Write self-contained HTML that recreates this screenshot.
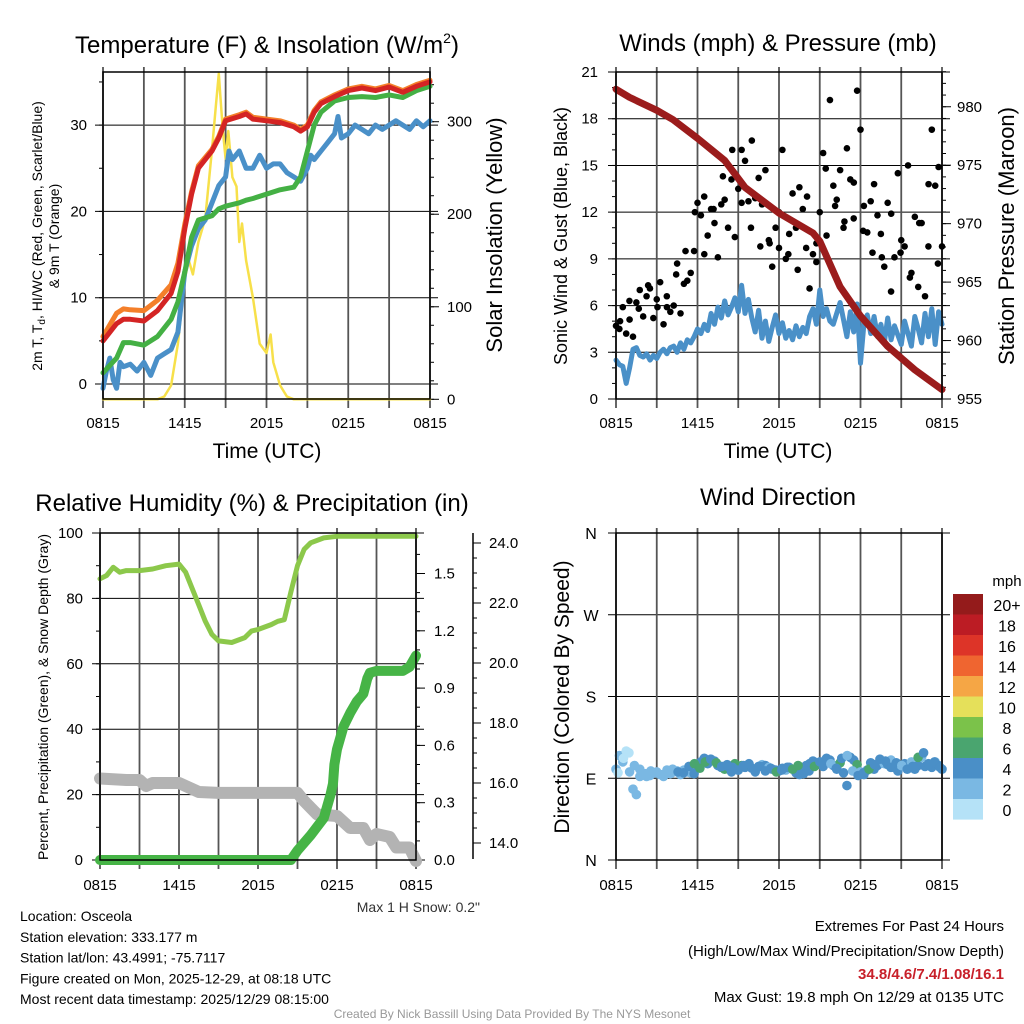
<!DOCTYPE html>
<html><head><meta charset="utf-8"><style>
html,body{margin:0;padding:0;background:#fff;}
svg{display:block;font-family:"Liberation Sans",Arial,sans-serif;}
</style></head><body>
<svg id="c" width="1024" height="1024" viewBox="0 0 1024 1024"></svg>
<script>
// ===== DATA (hours after 0815 UTC) =====
const tempT=[0,1,1.5,2,3,4,5,5.5,6,6.5,7,8,8.5,9,10,10.5,11,12,13,14,14.5,15,15.5,16,17,18,19,20,21,22,23,24];
const tempRed=[5,7,7.5,7.5,7.3,8.5,10.5,13,18,22,25,27,28.5,30.5,31,31.3,30.7,30.5,30.3,29.8,29.3,29.8,31.5,32.5,33.3,34,34.3,34,34.4,33.8,34.5,35];
const tempOrange=[5.5,8.2,8.7,8.6,8.5,9.7,11.5,14,18.5,22.3,25.3,27.2,28.7,30.7,31.2,31.5,30.9,30.7,30.5,30,29.5,30,31.7,32.7,33.5,34.2,34.5,34.2,34.6,34,34.7,35.2];
const tempGreen=[1.3,3,4.8,4.8,4.5,5.5,7.5,9.5,13,17,19,19.5,20.3,20.6,21,21.3,21.5,22,22.5,22.8,24,27,30,31.5,32.8,33.2,33.3,33.2,33.5,33.2,34,34.5];
const wcT=[0,0.25,0.5,0.75,1,1.25,1.5,2,2.5,3,3.5,4,4.5,5,5.5,6,6.5,7,7.5,8,8.5,9,9.25,9.5,10,10.5,11,11.5,12,12.5,13,13.5,14,14.5,15,15.25,15.5,16,16.5,17,17.25,17.5,18,18.5,19,19.5,20,20.5,21,21.5,22,22.5,23,23.5,24];
const wcBlue=[-0.5,1.5,3,0.5,-0.5,2.5,2,2.3,1.5,2.5,1,3,3.5,4,6,13,16,18,19,21,23,24,27,26,27,25,25,26.5,25,25.5,25.5,24.5,24,23.5,25,26.5,26,27,28,29,31,28.5,29,30,29.5,29,30,29.5,30,30.5,30,29.5,30.5,29.8,30.5];
const solarT=[0,4,4.5,5,5.5,6,6.3,6.6,7,7.5,8,8.3,8.5,8.6,8.8,9,9.2,9.5,9.8,10,10.2,10.5,11,11.5,12,12.3,12.5,13,13.5,14,24];
const solarW=[0,0,3,15,60,130,150,135,170,195,270,320,352,330,290,260,290,240,230,170,190,150,110,60,50,70,40,15,3,0,0];
const windBlue=[2.5,2.2,2.1,1.0,2.0,3.2,3.3,2.8,2.7,2.9,2.5,2.8,2.6,3.0,3.2,2.9,3.3,3.4,3.0,3.6,3.2,3.8,3.6,4.0,4.5,4.2,4.8,4.4,5.5,4.8,5.9,5.2,6.3,5.4,5.9,6.5,5.6,7.3,5.5,6.4,5.2,4.3,5.7,3.9,5.0,3.7,4.6,5.4,4.2,4.9,3.9,4.4,3.8,4.7,4.0,4.6,4.2,5.3,5.8,4.8,7.0,5.3,5.8,5.0,4.8,5.5,6.2,5.1,4.0,5.6,4.3,6.1,2.3,4.8,5.4,4.2,5.3,4.0,4.8,3.6,5.2,3.8,4.7,4.1,3.5,5.0,4.2,3.4,5.3,4.5,3.6,5.5,4.0,5.8,3.5,5.6,4.8];
const gust=[4.7,4.5,5.9,4.2,5.1,4.0,6.2,7.0,5.3,6.6,7.1,5.2,6.4,7.5,4.8,5.9,5.6,6.0,8.7,5.5,7.4,7.6,8.1,9.5,12.6,11.8,9.3,10.5,12.2,11.3,9.1,12.5,12.8,11.0,14.1,10.4,13.5,16.0,15.3,12.7,16.6,12.9,14.2,12.5,14.7,10.2,8.5,11.0,9.7,16.0,9.0,10.6,13.2,11.0,13.6,12.2,9.7,7.1,9.3,8.8,12.0,15.8,10.5,19.2,13.7,12.8,14.7,11.0,16.1,14.1,11.6,19.8,17.3,12.4,10.7,12.7,13.8,11.8,10.6,8.5,12.6,6.9,9.1,14.5,10.2,9.8,15.0,8.1,11.7,7.2,11.3,6.6,9.8,17.3,13.7,14.9,9.8];
const gust2=[5.0,6.3,5.8,7.3,5.9,6.6,8.0,9.5,12.0,13.0,12.2,14.3,16.0,12.6,11.0,9.8,10.0,12.0,9.3,8.3,13.0,10.0,14.8,12.4,11.4,13.9,10.8,9.4,9.1,11.9,9.4,7.8,11.3,13.8,8.7];
const pressT=[0,1,3,4.2,6,8,9.5,12,14.5,15,16.5,18,20,22,24];
const pressMb=[981.5,980.8,979.7,978.9,977.3,975.4,973.1,970.9,969.2,968.5,964.6,962.1,959.5,957.5,955.8];
const rhT=[0,0.5,1,1.5,2,3,4,5,6,6.5,7,7.5,8,8.5,9,10,11,11.5,12,13,13.5,14,14.5,15,15.5,16,17,18,24];
const rhPct=[86,87,89.5,88,88.5,88.5,89,90,90.5,88,83,78,73,69,67,66.5,68,70,70.5,72,73,73.5,82,90,95,97,98.5,99,99];
const precipT=[0,14.5,15,16,17,17.5,17.7,17.8,18,18.5,19,19.5,20,20.3,20.5,21,23,23.5,24];
const precipIn=[0,0,0.05,0.13,0.22,0.34,0.40,0.5,0.58,0.7,0.77,0.83,0.87,0.95,0.98,0.99,0.99,1.01,1.07];
const snowT=[0,2,3,3.5,4,5,6,7.5,9,12,15,15.5,16.5,18,19,20,20.5,21,22,22.5,23.5,24];
const snowIn=[16.15,16.1,16.1,15.9,16.0,16.0,16.0,15.7,15.67,15.67,15.67,15.4,14.95,14.9,14.5,14.5,14.1,14.3,14.2,13.85,13.85,13.4];
const windDir=[100,115,108,120,97,78,72,100,95,92,93,96,97,94,92,99,95,97,98,94,99,97,96,95,103,108,112,106,110,109,104,102,100,103,97,106,99,104,102,105,101,97,103,105,104,102,100,99,98,101,99,102,100,96,94,97,104,106,109,107,105,103,112,110,104,100,107,96,82,113,110,105,97,94,99,107,100,104,108,106,105,110,102,98,104,106,101,108,100,104,113,103,106,102,108,104,100];
const windDir2=[96,112,118,104,92,95,98,96,94,98,100,97,96,103,106,101,108,111,107,103,105,102,99,104,106,100,103,98,101,97,99,102,100,104,95,98,103,108,110,106,101,112,115,98,93,96,100,105,111,109,102,107,104,100,103,113,118,105,108,102];
const windSpd2=[1.8,1.5,1.2,2.5,2.8,2.6,3.0,3.1,3.4,3.5,3.8,4.2,4.5,4.7,6.5,6.8,7.1,4.8,6.3,4.6,5.2,4.4,4.8,4.5,4.1,4.6,4.2,4.4,4.3,6.6,4.0,5.5,6.7,6.9,4.2,5.0,6.4,4.6,4.3,2.8,4.5,4.7,3.9,2.6,4.2,4.8,6.2,4.5,4.2,4.4,5.0,4.6,3.8,4.9,4.2,6.6,4.4,4.7,4.3,4.1];
const xTickLabels=["0815","1415","2015","0215","0815"];
const colorBins=["20+","18","16","14","12","10","8","6","4","2","0"];
const colorVals=["#941b1b","#bc1c24","#dd3428","#ef6530","#f5a645","#e5e05a","#7bc24a","#4aa56f","#4a8fc7","#7ab8e3","#b5e2f7"];

// ===== helpers =====
const S=document.getElementById('c');const NS='http://www.w3.org/2000/svg';
function el(tag,attrs,parent){const e=document.createElementNS(NS,tag);for(const k in attrs)e.setAttribute(k,attrs[k]);(parent||S).appendChild(e);return e;}
function txt(x,y,s,size,anchor,parent,extra){const e=el('text',Object.assign({x:x,y:y,'font-size':size,'text-anchor':anchor||'middle',fill:'#000'},extra||{}),parent);e.textContent=s;return e;}
function grp(){return el('g',{});}
function poly(ts,vs,fx,fy,color,w,g){let d='';for(let i=0;i<ts.length;i++){d+=(i?'L':'M')+fx(ts[i]).toFixed(1)+' '+fy(vs[i]).toFixed(1);}return el('path',{d:d,fill:'none',stroke:color,'stroke-width':w,'stroke-linejoin':'round','stroke-linecap':'round'},g);}
function frame(x0,x1,yT,yB,g){el('rect',{x:x0,y:yT,width:x1-x0,height:yB-yT,fill:'none',stroke:'#000','stroke-width':1.5},g);}
function vgrid(x0,x1,yT,yB,yLab,g){for(let i=0;i<=8;i++){const x=x0+(x1-x0)*i/8;el('line',{x1:x,y1:yT-5,x2:x,y2:yB+9,stroke:'#555','stroke-width':1.8},g);}
 for(let i=0;i<5;i++){const l=txt(x0+(x1-x0)*i/4,yLab,xTickLabels[i],15,'middle',g);}}
function hgrid(x0,x1,y,g){el('line',{x1:x0-8,y1:y,x2:x1+8,y2:y,stroke:'#000','stroke-width':1},g);}

// ===== Panel 1: temperature =====
(function(){
 const g=grp();
 const x0=103,x1=430,yT=72,yB=399;
 const fx=t=>x0+(x1-x0)*t/24, fy=v=>384-v*8.63, fr=v=>399.3-v*0.9253;
 const tt=txt(267,53,'',24,'middle',g);
 const a1=el('tspan',{},tt);a1.textContent='Temperature (F) & Insolation (W/m';
 const a2=el('tspan',{'font-size':14,dy:-10},tt);a2.textContent='2';
 const a3=el('tspan',{dy:10},tt);a3.textContent=')';
 for(const v of [0,10,20,30])hgrid(x0,x1,fy(v),g);
 for(let v=0;v<=35;v+=5){el('line',{x1:x0-4,y1:fy(v),x2:x0,y2:fy(v),stroke:'#000'},g);}
 for(let v=0;v<=340;v+=20){el('line',{x1:x1,y1:fr(v),x2:x1+4,y2:fr(v),stroke:'#000'},g);}
 for(const v of [0,10,20,30])txt(87,fy(v)+5,String(v),15,'end',g);
 for(const v of [0,100,200,300]){el('line',{x1:x1,y1:fr(v),x2:x1+9,y2:fr(v),stroke:'#000'},g);txt(447,fr(v)+5,String(v),15,'start',g);}
 vgrid(x0,x1,yT,yB,428,g);
 poly(solarT,solarW,fx,fr,'#f7e04a',2.5,g);
 poly(tempT,tempOrange,fx,fy,'#f47f2a',5,g);
 poly(wcT,wcBlue,fx,fy,'#4a90c8',5,g);
 poly(tempT,tempGreen,fx,fy,'#44b044',5,g);
 poly(tempT,tempRed,fx,fy,'#d42424',5,g);
 frame(x0,x1,yT,yB,g);
 const t1=txt(0,0,'',14,'middle',g,{transform:'translate(42,236) rotate(-90)'});
 const a=el('tspan',{},t1);a.textContent='2m T, T';const s=el('tspan',{'font-size':10,dy:3},t1);s.textContent='d';const c=el('tspan',{dy:-3},t1);c.textContent=', HI/WC (Red, Green, Scarlet/Blue)';
 
 txt(0,0,'& 9m T (Orange)',14,'middle',g,{transform:'translate(59,236) rotate(-90)'});
 txt(0,0,'Solar Insolation (Yellow)',22,'middle',g,{transform:'translate(502,235) rotate(-90)'});
 txt(267,458,'Time (UTC)',21,'middle',g);
})();

// ===== Panel 2: winds & pressure =====
(function(){
 const g=grp();
 const x0=616,x1=942,yT=72,yB=399;
 const fx=t=>x0+(x1-x0)*t/24, fy=v=>399-v*15.57, fp=v=>399-(v-955)*11.69;
 txt(778,51,'Winds (mph) & Pressure (mb)',24,'middle',g);
 for(let v=0;v<=21;v+=3){hgrid(x0,x1,fy(v),g);txt(598,fy(v)+5,String(v),15,'end',g);}
 for(let v=0;v<=21;v+=1)el('line',{x1:x0-4,y1:fy(v),x2:x0,y2:fy(v),stroke:'#000'},g);
 for(let v=955;v<=983;v+=1)el('line',{x1:x1,y1:fp(v),x2:x1+4,y2:fp(v),stroke:'#000'},g);
 for(let v=955;v<=980;v+=5){el('line',{x1:x1,y1:fp(v),x2:x1+9,y2:fp(v),stroke:'#000'},g);txt(957,fp(v)+5,String(v),15,'start',g);}
 vgrid(x0,x1,yT,yB,428,g);
 const wt=windBlue.map((v,i)=>i*24/(windBlue.length-1));
 poly(wt,windBlue,fx,fy,'#4a90c8',5,g);
 gust.forEach((v,i)=>{const c=el('circle',{cx:fx(i*24/(gust.length-1)),cy:fy(v),r:3.3,fill:'#000'},g);
  
  });
 gust2.forEach((v,i)=>{const c=el('circle',{cx:fx(0.3+i*23.4/(gust2.length-1)),cy:fy(v),r:3.3,fill:'#000'},g);
  
  });
 poly(pressT,pressMb,fx,fp,'#9b1c1c',7,g);
 frame(x0,x1,yT,yB,g);
 txt(0,0,'Sonic Wind & Gust (Blue, Black)',18,'middle',g,{transform:'translate(567,236) rotate(-90)'});
 txt(0,0,'Station Pressure (Maroon)',22,'middle',g,{transform:'translate(1014,236) rotate(-90)'});
 txt(778,458,'Time (UTC)',21,'middle',g);
})();

// ===== Panel 3: RH & precip =====
(function(){
 const g=grp();
 const x0=100,x1=416,yT=533,yB=860;
 const fx=t=>x0+(x1-x0)*t/24, fy=v=>860-v*3.27, fpr=v=>860-v*191, fs=v=>543+(24-v)*30;
 txt(252,511,'Relative Humidity (%) & Precipitation (in)',24,'middle',g);
 for(let v=0;v<=100;v+=20){hgrid(x0,x1,fy(v),g);txt(83,fy(v)+5,String(v),15,'end',g);}
 for(let v=0;v<=100;v+=10)el('line',{x1:x0-4,y1:fy(v),x2:x0,y2:fy(v),stroke:'#000'},g);
 for(let v=0;v<=1.7;v+=0.1)el('line',{x1:x1,y1:fpr(v),x2:x1+4,y2:fpr(v),stroke:'#000'},g);
 for(const v of [0,0.3,0.6,0.9,1.2,1.5]){el('line',{x1:x1,y1:fpr(v),x2:x1+9,y2:fpr(v),stroke:'#000'},g);txt(434,fpr(v)+5,v.toFixed(1),15,'start',g);}
 el('line',{x1:473,y1:533,x2:473,y2:859,stroke:'#000','stroke-width':1.5},g);
 for(let v=14;v<=24;v+=0.5)el('line',{x1:473,y1:fs(v),x2:477,y2:fs(v),stroke:'#000'},g);
 for(let v=14;v<=24;v+=2){el('line',{x1:473,y1:fs(v),x2:481,y2:fs(v),stroke:'#000'},g);txt(489,fs(v)+5,v.toFixed(1),15,'start',g);}
 vgrid(x0,x1,yT,yB,890,g);
 poly(snowT,snowIn,fx,fs,'#b3b3b3',12,g);
 poly(precipT,precipIn,fx,fpr,'#46b446',10,g);
 poly(rhT,rhPct,fx,fy,'#8cc84b',5,g);
 frame(x0,x1,yT,yB,g);
 txt(0,0,'Percent, Precipitation (Green), & Snow Depth (Gray)',14,'middle',g,{transform:'translate(48,697) rotate(-90)'});
 txt(480,912,'Max 1 H Snow: 0.2"',14,'end',g,{fill:'#333'});
})();

// ===== Panel 4: wind direction =====
(function(){
 const g=grp();
 const x0=616,x1=942,yT=533,yB=860;
 const fx=t=>x0+(x1-x0)*t/24, fy=v=>860-v*0.9083;
 txt(778,505,'Wind Direction',24,'middle',g);
 ['N','E','S','W','N'].forEach((l,i)=>{hgrid(x0,x1,fy(i*90),g);txt(591,fy(i*90)+6,l,16,'middle',g);});
 vgrid(x0,x1,yT,yB,890,g);
 function dot(t,d,sp){const b=Math.min(10,Math.floor(sp/2));const c=el('circle',{cx:fx(t),cy:fy(d),r:4.8,fill:colorVals[10-b]},g);
  
  }
 windDir.forEach((d,i)=>dot(i*24/(windDir.length-1),d,windBlue[i]));
 windDir2.forEach((d,i)=>dot(0.15+i*23.7/(windDir2.length-1),d,windSpd2[i]));
 frame(x0,x1,yT,yB,g);
 txt(0,0,'Direction (Colored By Speed)',21,'middle',g,{transform:'translate(569,697) rotate(-90)'});
 const lg=el('g',{},g);
 txt(1007,586,'mph',15,'middle',lg);
 colorBins.forEach((l,i)=>{el('rect',{x:953,y:594+i*20.5,width:30,height:20.6,fill:colorVals[i]},lg);txt(1007,611+i*20.5,l,16,'middle',lg);});
})();

// ===== footer text =====
(function(){
 const g=grp();
 ['Location: Osceola','Station elevation: 333.177 m','Station lat/lon: 43.4991; -75.7117','Figure created on Mon, 2025-12-29, at 08:18 UTC','Most recent data timestamp: 2025/12/29 08:15:00'].forEach((s,i)=>{txt(20,921+i*20.8,s,14,'start',g);});
 txt(1004,931,'Extremes For Past 24 Hours',15,'end',g);
 txt(1004,956,'(High/Low/Max Wind/Precipitation/Snow Depth)',15,'end',g);
 txt(1004,979,'34.8/4.6/7.4/1.08/16.1',15,'end',g,{fill:'#c8202a','font-weight':'bold'});
 txt(1004,1002,'Max Gust: 19.8 mph On 12/29 at 0135 UTC',15,'end',g);
 txt(512,1018,'Created By Nick Bassill Using Data Provided By The NYS Mesonet',12,'middle',g,{fill:'#999'});
})();
</script>
</body></html>
